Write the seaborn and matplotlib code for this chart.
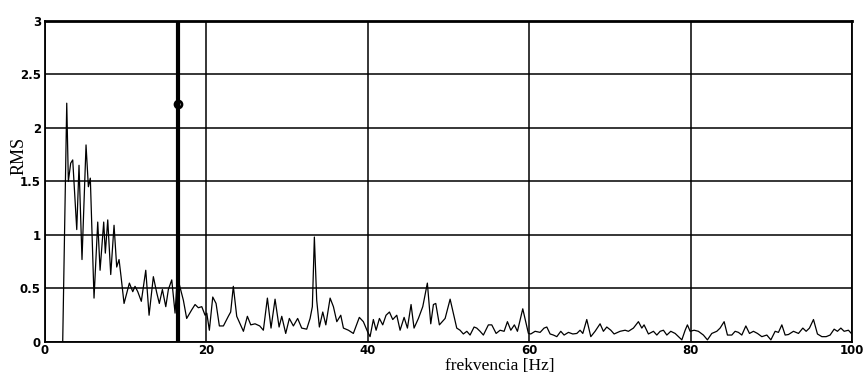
import numpy as np
import pandas as pd
import matplotlib
matplotlib.use("Agg")
import matplotlib.pyplot as plt
import seaborn as sns

# ── Data ──────────────────────────────────────────────────────────────────────
freq = [
    2.19, 2.69, 2.89, 3.18, 3.43, 3.93, 4.21, 4.58, 5.08, 5.37, 5.61, 6.07,
    6.53, 6.82, 7.27, 7.47, 7.77, 8.14, 8.55, 8.88, 9.17, 9.42, 9.79, 10.45,
    10.87, 11.15, 11.49, 11.93, 12.48, 12.89, 13.42, 13.84, 14.16, 14.54,
    14.96, 15.28, 15.70, 16.11, 16.39,
    17.14, 17.55, 18.17, 18.59, 19.00, 19.42, 19.83, 20.04, 20.36, 20.78,
    21.19, 21.60, 22.10, 22.71, 23.00, 23.33, 23.75, 24.16, 24.58, 25.07,
    25.49, 26.02, 26.60, 27.05, 27.55, 28.00, 28.50, 29.00, 29.33, 29.82,
    30.27, 30.77, 31.30, 31.80, 32.42, 32.84, 33.12, 33.37, 33.66, 33.99,
    34.41, 34.79, 35.32, 35.73, 36.15, 36.64, 36.97, 37.59, 38.20, 38.94,
    39.44, 39.94, 40.27, 40.68, 41.02, 41.43, 41.84, 42.25, 42.67, 43.08,
    43.58,
    43.99, 44.49, 44.90, 45.35, 45.72, 46.26, 46.80, 47.37, 47.79, 48.12,
    48.41, 48.86, 49.57, 50.19, 50.59, 51.01, 51.42, 51.83, 52.26, 52.66,
    53.16, 53.49, 53.90, 54.31, 54.93, 55.35, 55.89, 56.38, 56.88, 57.29,
    57.71, 58.15, 58.53, 59.19, 59.89, 60.18, 60.72, 61.34, 61.83, 62.17,
    62.58, 62.99, 63.41, 63.90, 64.31, 64.85, 65.39, 65.89, 66.29, 66.63,
    67.12, 67.62, 68.15, 68.77, 69.18, 69.60, 70.10, 70.51,
    71.25, 71.87, 72.28, 72.90, 73.52, 73.94, 74.22, 74.76, 75.38, 75.80,
    76.21, 76.62, 77.04, 77.53, 78.07, 78.48, 78.90, 79.31, 79.59, 79.93,
    80.42, 80.95, 81.57, 82.07, 82.61, 83.23, 83.64, 84.14, 84.55, 85.09,
    85.50, 85.91, 86.33, 86.83, 87.28, 87.77, 88.27, 88.81, 89.43, 89.93,
    90.46, 90.87, 91.29, 91.70, 92.11, 92.73, 93.35, 93.89, 94.30, 94.71,
    95.21, 95.70, 96.25, 96.78, 97.27, 97.77, 98.18, 98.60, 99.01, 99.54,
    99.96,
]
rms = [
    0.00, 2.23, 1.50, 1.67, 1.70, 1.05, 1.65, 0.77, 1.84, 1.45, 1.53, 0.41,
    1.12, 0.67, 1.12, 0.83, 1.14, 0.63, 1.09, 0.70, 0.77, 0.61, 0.36, 0.55,
    0.47, 0.52, 0.47, 0.38, 0.67, 0.25, 0.61, 0.46, 0.36, 0.49,
    0.33, 0.49, 0.58, 0.27, 0.61,
    0.39, 0.22, 0.30, 0.35, 0.32, 0.33, 0.25, 0.27, 0.11, 0.42,
    0.36, 0.15, 0.15, 0.24, 0.28, 0.52, 0.24, 0.17, 0.10, 0.24,
    0.16, 0.17, 0.15, 0.11, 0.41, 0.13, 0.40, 0.14, 0.24, 0.08,
    0.22, 0.15, 0.22, 0.13, 0.12, 0.22, 0.33, 0.98, 0.39, 0.14,
    0.28, 0.16, 0.41, 0.33, 0.19, 0.25, 0.13, 0.11, 0.08, 0.23,
    0.19, 0.10, 0.05, 0.21, 0.11, 0.22, 0.16, 0.25, 0.28, 0.21,
    0.25,
    0.11, 0.23, 0.13, 0.35, 0.13, 0.22, 0.33, 0.55, 0.17, 0.35,
    0.36, 0.16, 0.22, 0.40, 0.27, 0.13, 0.11, 0.075, 0.10, 0.065,
    0.14, 0.13, 0.10, 0.065, 0.16, 0.16, 0.08, 0.11, 0.10, 0.19,
    0.11, 0.16, 0.10, 0.31, 0.08, 0.075, 0.10, 0.09, 0.13, 0.14,
    0.075, 0.065, 0.05, 0.10, 0.065, 0.09, 0.075, 0.08, 0.11, 0.08,
    0.21, 0.05, 0.10, 0.17, 0.10, 0.14, 0.11, 0.075,
    0.10, 0.11, 0.10, 0.13, 0.19, 0.13, 0.16, 0.075, 0.10, 0.065,
    0.10, 0.11, 0.065, 0.10, 0.08, 0.05, 0.02, 0.11, 0.16, 0.10,
    0.11, 0.10, 0.065, 0.02, 0.08, 0.10, 0.13, 0.19, 0.065, 0.065,
    0.10, 0.09, 0.065, 0.15, 0.08, 0.10, 0.08, 0.05, 0.065, 0.02,
    0.10, 0.09, 0.16, 0.065, 0.07, 0.10, 0.08, 0.13, 0.10, 0.13,
    0.21, 0.075, 0.05, 0.05, 0.065, 0.12, 0.10, 0.13, 0.10, 0.11,
    0.075,
]

CURSOR_FREQ = 16.5
CURSOR_MARK = 2.22

x_ticks = [0, 20, 40, 60, 80, 100]
y_ticks = [0, 0.5, 1, 1.5, 2, 2.5, 3]
y_tick_labels = ["0", "0.5", "1", "1.5", "2", "2.5", "3"]

df = pd.DataFrame({"freq": freq, "rms": rms})

# ── Plot ──────────────────────────────────────────────────────────────────────
sns.set_style("white")
fig = plt.figure(figsize=(8.66, 3.76), dpi=100)
ax = fig.add_axes([0.052, 0.0904, 0.932, 0.8545])

sns.lineplot(data=df, x="freq", y="rms", ax=ax, color="black",
             linewidth=0.9, estimator=None, sort=False)

# cursor line with marker
ax.axvline(CURSOR_FREQ, color="black", linewidth=3)
ax.plot([CURSOR_FREQ], [CURSOR_MARK], marker="o", markersize=5,
        markerfacecolor="none", markeredgecolor="black", markeredgewidth=2)

ax.set_xlim(0, 100)
ax.set_ylim(0, 3)
ax.set_xticks(x_ticks)
ax.set_yticks(y_ticks)
ax.set_yticklabels(y_tick_labels)
ax.grid(True, color="black", linewidth=1.1)
ax.set_axisbelow(False)
for s in ax.spines.values():
    s.set_color("black")
    s.set_linewidth(1.3)
ax.spines["top"].set_linewidth(2)

ax.tick_params(axis="x", length=0, pad=1.5, labelcolor="black")
ax.tick_params(axis="y", length=0, pad=3, labelcolor="black")
for lab in ax.get_xticklabels() + ax.get_yticklabels():
    lab.set_fontsize(8.5)
    lab.set_fontweight("bold")
    lab.set_family("DejaVu Sans")

ax.set_xlabel("frekvencia [Hz]", family="Liberation Serif", fontsize=12.5,
              color="black")
ax.set_ylabel("RMS", family="Liberation Serif", fontsize=13, color="black")
ax.xaxis.set_label_coords(0.564, -0.05)
ax.yaxis.set_label_coords(-0.022, 0.58)

plt.savefig("out.png", dpi=100)
